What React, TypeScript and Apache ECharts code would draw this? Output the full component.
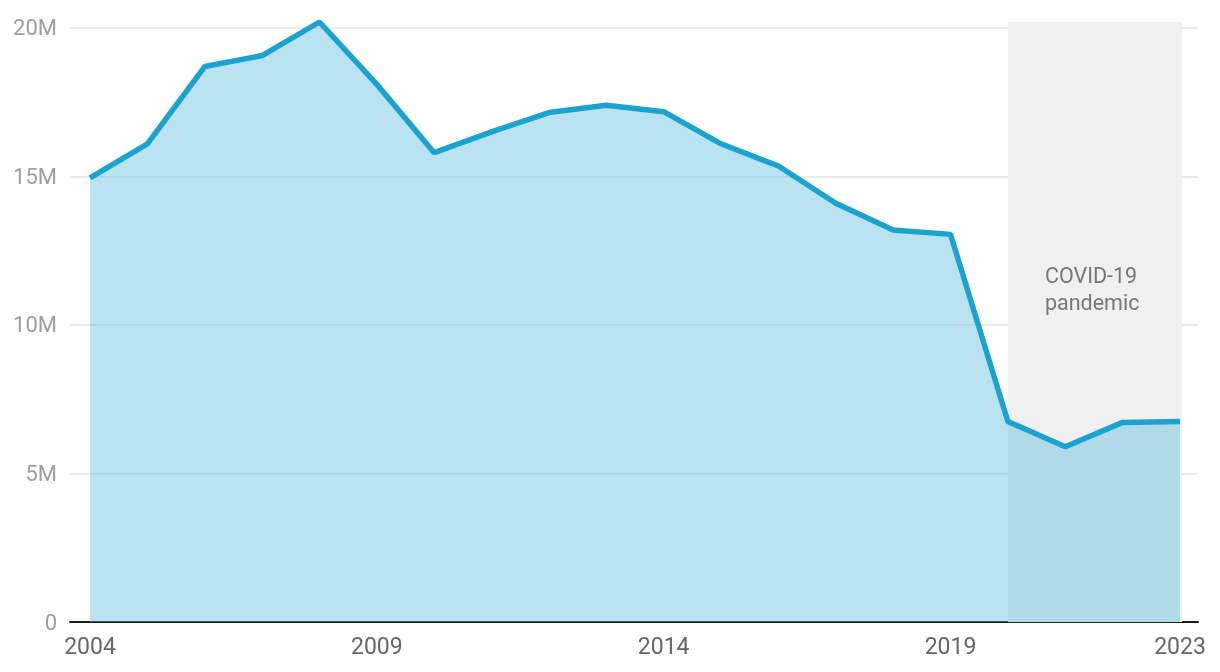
import React, { useEffect, useRef } from "react";
import * as echarts from "echarts";

const years = [2004, 2005, 2006, 2007, 2008, 2009, 2010, 2011, 2012, 2013, 2014, 2015, 2016, 2017, 2018, 2019, 2020, 2021, 2022, 2023];
const valuesM = [14.95, 16.1, 18.7, 19.07, 20.2, 18.1, 15.8, 16.5, 17.15, 17.4, 17.18, 16.1, 15.35, 14.1, 13.2, 13.05, 6.75, 5.9, 6.72, 6.75];
const xTickYears = [2004, 2009, 2014, 2019, 2023];
const yTicks = [0, 5e6, 10e6, 15e6, 20e6];
const pandemicStart = 2020;
const pandemicEnd = 2023.035;
const pandemicLabel = "COVID-19\npandemic";

export default function App() {
  const ref = useRef<HTMLDivElement>(null);
  useEffect(() => {
    if (!ref.current) return;
    const chart = echarts.init(ref.current, undefined, { renderer: "svg" });
    const data = years.map((y, i) => [y, valuesM[i] * 1e6]);
    chart.setOption({
      animation: false,
      textStyle: { fontFamily: "Roboto" },
      grid: { left: 70, right: 22, top: 22, bottom: 50, containLabel: false },
      xAxis: {
        type: "value",
        min: 2003.651,
        max: 2023.314,
        splitLine: { show: false },
        axisTick: { show: false },
        axisLine: { show: true, lineStyle: { color: "#1c1c1c", width: 2 } },
        axisLabel: {
          customValues: xTickYears,
          formatter: (v: number) => String(Math.round(v)),
          color: "#666666",
          fontSize: 23,
          margin: 13,
          fontFamily: "Roboto",
        },
      },
      yAxis: {
        type: "value",
        min: 0,
        max: 20.2e6,
        axisLine: { show: false },
        axisTick: { show: false, customValues: yTicks },
        splitLine: { show: true, lineStyle: { color: "#e4e4e4", width: 1.5 } },
        axisLabel: {
          customValues: yTicks,
          formatter: (v: number) => (v === 0 ? "0" : v / 1e6 + "M"),
          color: "#9e9e9e",
          fontSize: 22,
          margin: 13,
          fontFamily: "Roboto",
        },
      },
      series: [
        {
          type: "line",
          z: 1,
          data: [],
          silent: true,
          markArea: {
            silent: true,
            itemStyle: { color: "#f0f0f0" },
            label: {
              show: true,
              formatter: pandemicLabel,
              position: [37, 240],
              align: "left",
              verticalAlign: "top",
              color: "#777777",
              fontSize: 21.5,
              lineHeight: 27,
              fontFamily: "Roboto",
            },
            data: [[{ xAxis: pandemicStart }, { xAxis: pandemicEnd }]],
          },
        },
        {
          type: "line",
          z: 3,
          data,
          symbol: "none",
          lineStyle: { color: "#1aa3cf", width: 5.5 },
          areaStyle: { color: "rgb(80,185,218)", opacity: 0.4 },
        },
      ],
    });
    return () => chart.dispose();
  }, []);
  return (
    <div
      ref={ref}
      style={{ position: "fixed", left: 0, top: 0, width: 1220, height: 672 }}
    />
  );
}
